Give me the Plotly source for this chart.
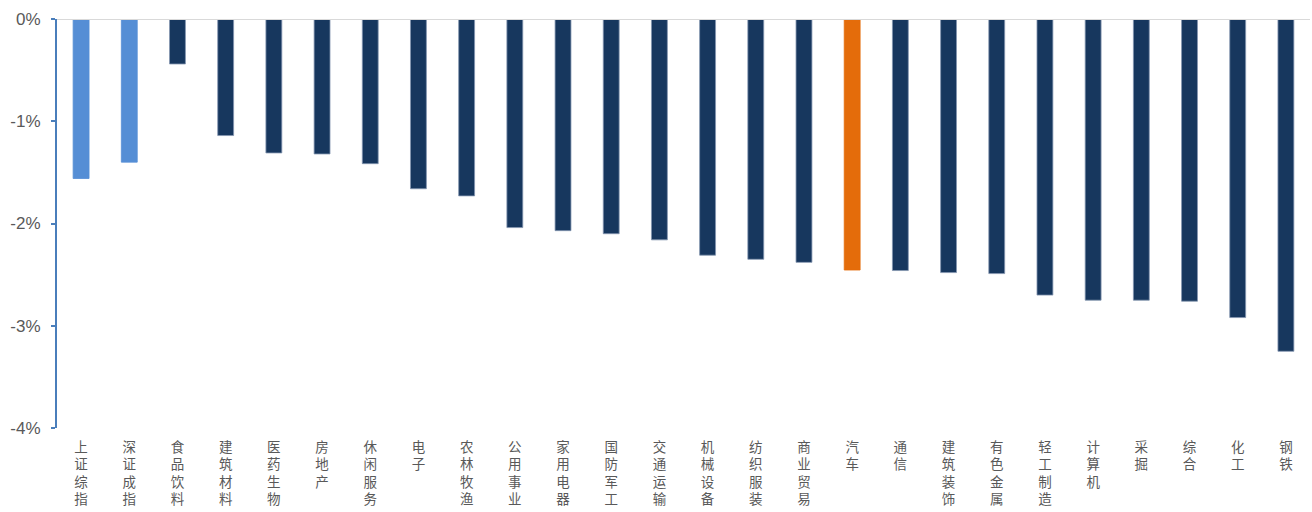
import plotly.graph_objects as go

categories = ["上证综指", "深证成指", "食品饮料", "建筑材料", "医药生物", "房地产", "休闲服务", "电子",
              "农林牧渔", "公用事业", "家用电器", "国防军工", "交通运输", "机械设备", "纺织服装", "商业贸易",
              "汽车", "通信", "建筑装饰", "有色金属", "轻工制造", "计算机", "采掘", "综合", "化工", "钢铁"]
values = [-1.56, -1.40, -0.44, -1.14, -1.31, -1.32, -1.415, -1.66,
          -1.73, -2.04, -2.07, -2.10, -2.16, -2.31, -2.35, -2.38,
          -2.455, -2.46, -2.48, -2.49, -2.70, -2.75, -2.75, -2.76, -2.92, -3.25]
highlight_index = ["index", "index"] + ["sector"] * 14 + ["focus"] + ["sector"] * 9
y_tick_vals = [0, -1, -2, -3, -4]
y_tick_text = ["0%", "-1%", "-2%", "-3%", "-4%"]

color_map = {"index": "#558ed5", "sector": "#17375e", "focus": "#e46c0a"}
colors = [color_map[k] for k in highlight_index]
line_colors = ["#558ed5" if k == "index" else ("#e46c0a" if k == "focus" else "#8496b0") for k in highlight_index]

tick_labels = ["<br>".join(list(c)) for c in categories]

fig = go.Figure(go.Bar(
    x=categories, y=values,
    marker=dict(color=colors, line=dict(color=line_colors, width=0.8)),
    width=0.33,
))

fig.add_shape(type="line", xref="paper", x0=0, x1=1, yref="y", y0=0, y1=0,
              line=dict(color="#d9d9d9", width=2), layer="above")

fig.update_layout(
    width=1312, height=512,
    margin=dict(l=57, r=2, t=19, b=84),
    plot_bgcolor="white", paper_bgcolor="white",
    showlegend=False,
    font=dict(family="Liberation Sans, Arial, sans-serif", color="#595959"),
)
fig.update_xaxes(
    tickmode="array", tickvals=categories, ticktext=tick_labels,
    tickangle=0, showgrid=False, showline=False, zeroline=False, ticks="",
    ticklabelstandoff=9,
    tickfont=dict(family="Noto Sans CJK SC", size=13.5, color="#595959"),
    range=[-0.5, len(categories) - 0.5],
)
fig.update_yaxes(
    range=[-4, 0], tickmode="array", tickvals=y_tick_vals, ticktext=y_tick_text,
    showgrid=False, zeroline=False, showline=True, linecolor="#4a7ebb", linewidth=2,
    ticks="outside", ticklen=4, tickcolor="#4a7ebb", tickwidth=2,
    ticklabelstandoff=7,
    tickfont=dict(family="Liberation Sans, Arial, sans-serif", size=17, color="#595959"),
)

fig.write_html("out.html")
